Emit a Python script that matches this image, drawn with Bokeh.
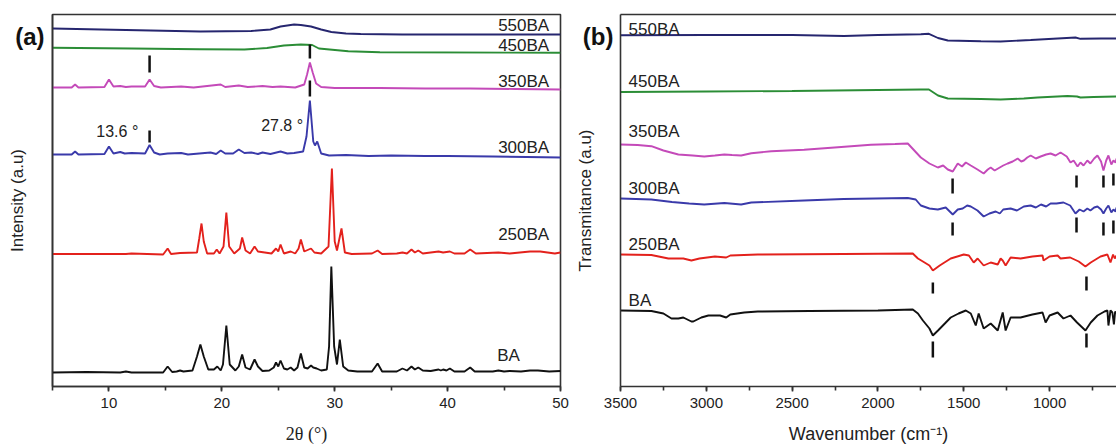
from bokeh.plotting import figure
from bokeh.layouts import row
from bokeh.models import Range1d, LinearAxis, FixedTicker, SingleIntervalTicker
from bokeh.embed import file_html
from bokeh.resources import INLINE
from bokeh.core.properties import value

# ---------------- (a) XRD data: (2theta, intensity a.u., offset included) ----------------
xrd_550 = [(5, 358), (9.3, 357), (13.7, 356), (18.1, 355), (22.6, 355.5), (24.3, 357), (25.2, 360),
           (26.4, 362), (27, 361.5), (27.9, 360), (28.8, 357), (29.7, 354.5), (31, 353), (32.3, 352.5),
           (36, 352), (50, 352)]
xrd_450 = [(5, 338.7), (12, 338), (18, 337.3), (22, 337), (24, 338.5), (25.5, 341), (27, 342),
           (28, 341.5), (28.6, 338), (31.2, 335.3), (34, 334.3), (50, 333.7)]
xrd_350 = [(5.0, 299), (6.7, 299), (7.0, 302), (7.3, 299), (9.6, 299.5), (10.0, 307), (10.4, 300),
           (11.0, 300.5), (11.5, 299.5), (12.0, 300), (13.2, 300), (13.6, 307), (14.0, 300.5),
           (14.6, 299), (16.4, 300), (17.5, 299), (19.9, 302), (20.3, 299.5), (21.5, 301), (22.3, 299.5),
           (23.6, 300.5), (24.5, 299.5), (25.2, 300), (26.5, 299), (27.3, 302), (27.55, 312), (27.8, 324),
           (28.05, 314), (28.35, 303), (28.8, 299.5), (30.0, 298.5), (34.0, 298.5), (38.0, 298),
           (42.0, 298), (46.0, 297.5), (50.0, 297)]
xrd_300 = [(5.0, 232), (6.7, 232), (7.0, 235), (7.3, 232), (9.6, 232.5), (10.0, 240), (10.4, 233),
           (11.0, 234.5), (11.4, 233), (12.0, 233.5), (13.2, 233), (13.6, 241.5), (14.0, 234), (14.5, 232),
           (15.2, 233), (16.4, 233.5), (17.0, 232), (18.0, 233), (19.0, 234), (19.5, 232.5), (19.9, 236),
           (20.3, 233), (21.0, 233), (21.5, 237), (22.0, 233.5), (22.6, 234), (23.2, 232.5), (23.6, 234),
           (24.3, 232.5), (25.2, 235), (25.8, 233), (26.4, 233.5), (27.2, 235), (27.5, 250), (27.8, 286),
           (28.1, 245), (28.25, 241), (28.45, 245), (28.8, 233), (29.5, 231), (31.0, 231.5), (33.0, 230.5),
           (35.0, 231), (38.0, 230.5), (40.0, 230.5), (44.0, 230), (47.0, 229.5), (50.0, 229)]
xrd_250 = [(5.0, 132.5), (11.5, 132.5), (12.0, 133), (14.8, 132), (15.2, 138), (15.5, 132.5), (16.3, 133.5),
           (17.8, 134), (18.0, 148), (18.2, 163), (18.4, 145), (18.7, 133), (19.3, 133), (19.55, 137),
           (19.8, 133), (20.15, 140), (20.4, 174), (20.65, 140), (21.1, 133), (21.6, 138), (21.8, 149),
           (22.1, 136), (22.5, 133), (22.9, 140), (23.2, 135), (23.8, 134), (24.4, 133), (24.8, 138),
           (25.0, 135), (25.2, 142), (25.5, 133), (26.1, 135), (26.5, 133), (26.8, 138), (27.0, 147),
           (27.3, 135), (27.9, 138), (28.2, 134), (28.8, 133), (29.45, 140), (29.75, 218), (30.0, 145),
           (30.2, 136), (30.6, 158), (30.9, 134), (31.5, 132.5), (33.3, 133), (33.8, 136), (34.2, 132.5),
           (35.5, 133), (36.0, 134), (36.4, 133), (36.8, 137), (37.1, 134), (37.4, 136), (37.8, 133),
           (39.2, 135), (39.6, 134), (40.2, 135), (40.6, 133), (41.5, 133), (42.0, 137), (42.5, 133),
           (44.5, 134), (45.5, 133), (47.3, 135), (48.2, 135), (49.5, 133), (50.0, 134)]
xrd_ba = [(5.0, 14), (8.0, 14.5), (11.0, 14), (11.5, 15), (12.0, 14), (14.8, 14), (15.2, 20), (15.6, 14.5),
          (16.0, 15), (16.3, 16), (16.6, 15), (17.4, 16), (17.8, 30), (18.1, 42), (18.4, 30), (18.8, 17),
          (19.3, 17), (19.6, 20), (19.9, 16), (20.1, 22), (20.4, 61), (20.7, 22), (21.2, 16), (21.5, 20),
          (21.8, 32), (22.1, 19), (22.5, 17), (22.9, 27), (23.2, 20), (23.6, 15.5), (24.2, 16), (24.6, 19),
          (24.8, 24), (25.0, 20), (25.2, 26), (25.5, 18), (25.8, 17), (26.1, 19), (26.4, 16), (26.7, 19),
          (27.0, 33), (27.3, 19), (27.6, 18), (27.9, 21), (28.1, 19), (28.4, 18), (28.8, 16), (29.3, 17),
          (29.5, 40), (29.7, 120), (29.95, 40), (30.2, 22), (30.45, 47), (30.75, 20), (31.2, 16),
          (32.0, 15), (33.3, 15), (33.8, 23), (34.2, 15), (35.5, 15), (36.0, 18), (36.4, 16), (36.8, 20),
          (37.1, 17), (37.4, 19), (37.8, 16), (38.5, 15.5), (39.2, 17), (39.4, 16), (39.6, 17), (39.9, 16),
          (40.2, 18), (40.6, 15), (41.5, 15), (42.0, 19), (42.4, 15), (44.0, 15), (44.5, 16), (45.0, 15),
          (45.5, 15.5), (46.5, 15), (47.3, 16), (48.0, 16), (49.0, 15), (50.0, 15.5)]

xrd_names = ["550BA", "450BA", "350BA", "300BA", "250BA", "BA"]
xrd_label_x = [49.0, 49.0, 49.0, 49.0, 49.0, 46.4]
xrd_label_y = [361, 341, 305.5, 239, 152, 31]
xrd_mark_x = [13.6, 27.8, 27.8, 13.6]
xrd_mark_y0 = [314, 328, 290, 244]
xrd_mark_y1 = [331, 342, 306, 256]
xrd_note_text = ["13.6 \u00b0", "27.8 \u00b0"]
xrd_note_x = [12.6, 27.2]
xrd_note_y = [255, 261]

# ---------------- (b) FTIR data: (wavenumber, transmittance a.u., offset included) ----------------
ftir_550 = [(3500, 351.3), (3000, 351.5), (2500, 351.5), (2198, 350.5), (2000, 351.5), (1750, 352.3),
            (1703, 352.7), (1650, 348.5), (1593, 346), (1400, 345.3), (1285, 345), (1110, 346.5),
            (900, 348.5), (849, 349), (820, 347.7), (700, 348), (610, 348)]
ftir_450 = [(3500, 294.5), (3000, 295), (2500, 295.5), (2000, 296.5), (1750, 297), (1703, 297),
            (1650, 291), (1593, 288), (1400, 287.5), (1285, 287), (1150, 288), (1070, 289),
            (896, 290.5), (840, 290), (820, 289), (744, 289.5), (610, 290)]
ftir_350 = [(3500, 242), (3400, 241.5), (3320, 240.3), (3250, 236), (3163, 232), (3080, 231), (3012, 230),
            (2950, 231), (2895, 232), (2850, 231.5), (2797, 231), (2738, 233.3), (2622, 235.3),
            (2430, 236.7), (2233, 239.3), (2041, 241.7), (1900, 242.5), (1826, 243),
            (1750, 229), (1700, 223), (1651, 219), (1620, 221), (1593, 217), (1564, 215), (1535, 223),
            (1510, 220), (1488, 224), (1459, 221), (1420, 217), (1384, 213), (1360, 217), (1343, 219),
            (1320, 216), (1300, 218), (1270, 221), (1244, 223), (1215, 225), (1186, 228), (1165, 225),
            (1150, 226), (1130, 229), (1110, 231), (1080, 228), (1052, 230), (1020, 232), (994, 233),
            (965, 231), (936, 234), (900, 230), (878, 224), (860, 226), (837, 220), (820, 224),
            (802, 221), (780, 226), (762, 223), (740, 228), (721, 231), (700, 225), (686, 216),
            (670, 226), (657, 231), (640, 222), (628, 226), (615, 224), (610, 228)]
ftir_300 = [(3500, 188), (3320, 187), (3200, 184.5), (3100, 183), (3012, 182), (2895, 183.5), (2797, 182),
            (2738, 184), (2430, 186), (2200, 187.5), (1826, 188.5), (1780, 187), (1750, 181), (1700, 178),
            (1651, 177), (1605, 179), (1564, 172), (1535, 177), (1506, 178), (1480, 181), (1459, 180),
            (1420, 176), (1384, 170), (1350, 173), (1314, 175), (1290, 173), (1270, 177), (1227, 178),
            (1190, 176), (1150, 180), (1110, 181), (1080, 179), (1050, 182), (1020, 180), (994, 183),
            (960, 183), (919, 184), (880, 181), (849, 173), (825, 177), (802, 175), (780, 178), (762, 176),
            (740, 179), (721, 180), (700, 177), (686, 173), (670, 178), (657, 181), (640, 174), (628, 177),
            (615, 175), (610, 179)]
ftir_250 = [(3500, 132), (3320, 131.5), (3221, 128), (3134, 128), (3087, 126), (3040, 128), (2950, 130),
            (2884, 129), (2860, 131), (2700, 132), (2200, 132.5), (1797, 133), (1767, 128), (1738, 125),
            (1700, 121), (1680, 116), (1640, 121), (1576, 128), (1500, 132), (1470, 131), (1442, 124),
            (1419, 128), (1384, 121), (1343, 124), (1302, 122), (1285, 128), (1273, 126), (1256, 121),
            (1227, 129), (1169, 128), (1100, 130), (1041, 131), (1035, 126), (1000, 130), (953, 131),
            (936, 128), (880, 129), (830, 125), (791, 120), (760, 124), (703, 130), (663, 132),
            (645, 124), (630, 132), (620, 128), (610, 131)]
ftir_ba = [(3500, 76), (3320, 75.5), (3250, 73), (3203, 68), (3163, 68), (3134, 69), (3087, 65), (3076, 65),
           (3029, 69), (2988, 71), (2920, 71), (2884, 69), (2860, 72), (2779, 74), (2700, 75), (2400, 75.5),
           (2000, 76), (1797, 77), (1767, 73), (1738, 66), (1700, 58), (1680, 51), (1650, 56), (1576, 69),
           (1530, 73), (1488, 76), (1459, 73), (1430, 61), (1413, 73), (1384, 58), (1343, 63), (1302, 56),
           (1273, 74), (1256, 56), (1227, 69), (1169, 69), (1100, 72), (1041, 74), (1023, 64), (1000, 71),
           (953, 74), (919, 68), (878, 71), (840, 64), (791, 56), (760, 64), (721, 71), (680, 75),
           (663, 76), (657, 61), (645, 76), (634, 74), (625, 62), (618, 75), (610, 73)]

ftir_names = ["550BA", "450BA", "350BA", "300BA", "250BA", "BA"]
ftir_label_x = [3453] * 6
ftir_label_y = [357, 305, 255, 198, 142, 86]
ftir_mark_x = [1565, 843, 686, 628, 1565, 843, 686, 628, 1680, 785, 1680, 785]
ftir_mark_y0 = [193, 199, 199, 201, 151, 154, 151, 153, 93, 96, 29, 39]
ftir_mark_y1 = [208, 211, 211, 213, 164, 169, 164, 166, 104, 110, 45, 53]

panel_tag_y = 350
colors = ["#26266f", "#2b8d36", "#c44ab9", "#3a3aaa", "#e3211c", "#111111"]

SANS = "Liberation Sans"
AX = "#333333"


def style_axes(p, xlabel, xfont, ylabel, tag, tag_standoff, ylabel_standoff):
    p.xaxis.axis_label = xlabel
    p.xaxis.axis_label_text_font = xfont
    p.xaxis.axis_label_text_font_style = "normal"
    p.xaxis.axis_label_text_font_size = "18px"
    p.xaxis.axis_label_text_color = "#222222"
    p.xaxis.axis_label_standoff = 13
    p.xaxis.major_label_text_font = SANS
    p.xaxis.major_label_text_font_size = "15px"
    p.xaxis.major_label_text_color = "#222222"
    p.xaxis.major_label_standoff = 6
    p.xaxis.major_tick_in = 0
    p.xaxis.major_tick_out = 5
    p.xaxis.minor_tick_in = 0
    p.xaxis.minor_tick_out = 4
    for ax in p.xaxis + p.yaxis:
        ax.axis_line_color = AX
        ax.axis_line_width = 1.6
        ax.major_tick_line_color = AX
        ax.major_tick_line_width = 1.6
        ax.minor_tick_line_color = AX
        ax.minor_tick_line_width = 1.6
    # y axis: no ticks; its single tick label is the panel letter, next to the frame's top
    p.yaxis.ticker = FixedTicker(ticks=[panel_tag_y])
    p.yaxis.major_label_overrides = {panel_tag_y: tag}
    p.yaxis.major_tick_line_color = None
    p.yaxis.minor_tick_line_color = None
    p.yaxis.major_tick_in = 0
    p.yaxis.major_tick_out = 0
    p.yaxis.minor_tick_in = 0
    p.yaxis.minor_tick_out = 0
    p.yaxis.major_label_standoff = tag_standoff
    p.yaxis.major_label_text_font = SANS
    p.yaxis.major_label_text_font_style = "bold"
    p.yaxis.major_label_text_font_size = "24px"
    p.yaxis.major_label_text_color = "#111111"
    p.yaxis.axis_label = ylabel
    p.yaxis.axis_label_standoff = ylabel_standoff
    p.yaxis.axis_label_text_font = SANS
    p.yaxis.axis_label_text_font_style = "normal"
    p.yaxis.axis_label_text_font_size = "17px"
    p.yaxis.axis_label_text_color = "#222222"
    p.xgrid.visible = False
    p.ygrid.visible = False


def unzip(pairs):
    return [a for a, _ in pairs], [b for _, b in pairs]


# ---------------- panel (a) ----------------
p1 = figure(width=572, height=446, output_backend="svg", toolbar_location=None,
            x_range=Range1d(5, 50), y_range=Range1d(0, 372),
            min_border_left=52, min_border_right=12, min_border_top=14, min_border_bottom=60)
p1.xaxis.ticker = SingleIntervalTicker(interval=10, num_minor_ticks=2)
style_axes(p1, "2\u03b8 (\u00b0)", "Liberation Serif", "Intensity (a.u)", "(a)", 8, -15)
p1.outline_line_color = AX
p1.outline_line_width = 1.6
p1.outline_line_alpha = 1.0

for data, c in zip([xrd_550, xrd_450, xrd_350, xrd_300, xrd_250, xrd_ba], colors):
    xs, ys = unzip(data)
    p1.line(xs, ys, line_color=c, line_width=1.9)

p1.segment(x0=xrd_mark_x, x1=xrd_mark_x, y0=xrd_mark_y0, y1=xrd_mark_y1,
           line_color="#111111", line_width=2.5)
p1.text(x=xrd_label_x, y=xrd_label_y, text=xrd_names, text_font=value(SANS), text_font_size="17px",
        text_align="right", text_baseline="middle", text_color="#222222")
p1.text(x=xrd_note_x, y=xrd_note_y, text=xrd_note_text, text_font=value(SANS), text_font_size="16px",
        text_align="right", text_baseline="middle", text_color="#222222")

# ---------------- panel (b) ----------------
p2 = figure(width=544, height=446, output_backend="svg", toolbar_location=None,
            x_range=Range1d(3500, 610), y_range=Range1d(0, 372),
            min_border_left=47, min_border_right=0, min_border_top=14, min_border_bottom=60)
p2.xaxis.ticker = SingleIntervalTicker(interval=500, num_minor_ticks=2)
style_axes(p2, "Wavenumber (cm\u207b\u00b9)", SANS, "Transmitance (a.u)", "(b)", 7, -15)
p2.outline_line_color = None
top_axis = LinearAxis(ticker=FixedTicker(ticks=[]), axis_line_color=AX, axis_line_width=1.6,
                      major_label_text_font_size="0px", major_tick_out=0, minor_tick_out=0)
p2.add_layout(top_axis, "above")

for data, c in zip([ftir_550, ftir_450, ftir_350, ftir_300, ftir_250, ftir_ba], colors):
    xs, ys = unzip(data)
    p2.line(xs, ys, line_color=c, line_width=1.9)

p2.segment(x0=ftir_mark_x, x1=ftir_mark_x, y0=ftir_mark_y0, y1=ftir_mark_y1,
           line_color="#111111", line_width=2.5)
p2.text(x=ftir_label_x, y=ftir_label_y, text=ftir_names, text_font=value(SANS), text_font_size="17px",
        text_align="left", text_baseline="middle", text_color="#222222")

layout = row(p1, p2)
open("out.html", "w").write(file_html(layout, INLINE))
